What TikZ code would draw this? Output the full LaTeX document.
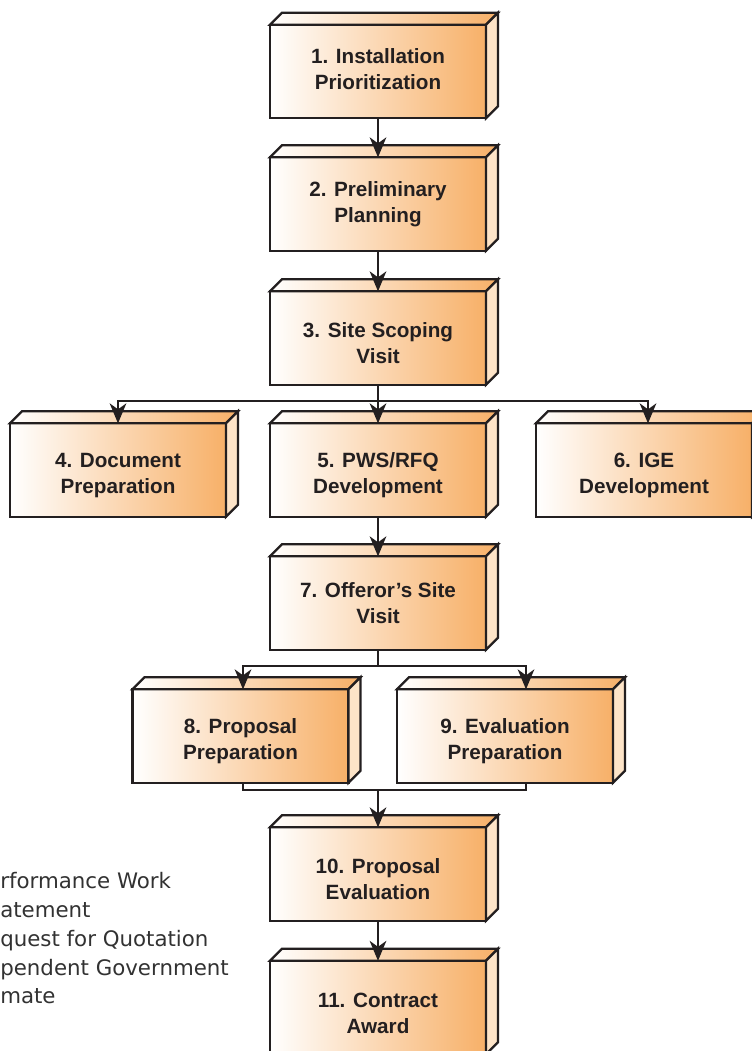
\documentclass[tikz,border=0pt]{standalone}
\usepackage{fontspec}
\setmainfont{Liberation Sans}
\newfontfamily\keyfont{DejaVu Sans}
\usepackage{tikz}
\usetikzlibrary{calc}
\usetikzlibrary{arrows.meta, positioning}

\definecolor{boxorange}{RGB}{247,176,104}
\definecolor{sidepeach}{RGB}{253,228,200}
\definecolor{inkgray}{RGB}{35,31,32}
\definecolor{keygray}{RGB}{50,50,50}

% two text lines, set a little below the box centre
\newcommand{\steptext}[2]{\rule{0pt}{19.5pt}#1\\#2}

\tikzset{
  stepbox/.style={draw=inkgray, line width=1.7pt, left color=white, right color=boxorange,
    minimum width=162pt, minimum height=70pt, inner sep=0pt, outer sep=0pt,
    align=center, text=inkgray, font=\fontsize{15.5}{19.5}\selectfont\bfseries},
  topface/.style={draw=inkgray, line width=1.7pt, left color=white, right color=boxorange},
  sideface/.style={draw=inkgray, line width=1.7pt, fill=sidepeach},
  arr/.style={draw=inkgray, line width=1.4pt, -{Stealth[length=15pt,width=12.5pt,inset=4.5pt]}},
  link/.style={draw=inkgray, line width=1.4pt},
  keytext/.style={inner sep=0pt, text=keygray, font=\keyfont\fontsize{16}{21.5}\selectfont}
}

% top and right faces of a step box
\newcommand{\slab}[1]{%
  \draw[topface] (#1.north west) -- ++(12,-12) -- ($(#1.north east)+(12,-12)$) -- (#1.north east) -- cycle;
  \draw[sideface] (#1.north east) -- ++(12,-12) -- ($(#1.south east)+(12,-12)$) -- (#1.south east) -- cycle;
}

\begin{document}
\begin{tikzpicture}[x=0.75pt,y=0.75pt,yscale=-1,xscale=1]
\useasboundingbox (0,0) rectangle (751,1051);

% Steps
\node[stepbox] (b1) at (378,71.5) {1. Installation\\Prioritization\rule[-4pt]{0pt}{0pt}};
\node[stepbox] (b2) at (378,204) {2. Preliminary\\Planning};
\node[stepbox] (b3) at (378,338) {\steptext{3. Site Scoping}{Visit}};
\node[stepbox] (b4) at (118,470) {\steptext{4. Document}{Preparation}};
\node[stepbox] (b5) at (378,470) {\steptext{5. PWS/RFQ}{Development}};
\node[stepbox] (b6) at (644,470) {\steptext{6. IGE}{Development}};
\node[stepbox] (b7) at (378,603) {7. Offeror's Site\\Visit};
\node[stepbox] (b8) at (240.5,736) {\steptext{8. Proposal}{Preparation}};
\node[stepbox] (b9) at (505,736) {\steptext{9. Evaluation}{Preparation}};
\node[stepbox] (b10) at (378,874) {\steptext{10. Proposal}{Evaluation}};
\node[stepbox] (b11) at (378,1007.5) {\steptext{11. Contract}{Award}};

\foreach \b in {b1,b2,b3,b4,b5,b6,b7,b8,b9,b10,b11} {\slab{\b}}

% Junctions
\coordinate (j3) at (378,401);
\coordinate (j7) at (378,666);
\coordinate (j8) at (378,790);

% Connectors
\draw[arr] (b1.south) -- (b2.north);
\draw[arr] (b2.south) -- (b3.north);
\draw[link] (b3.south) -- (j3);
\draw[arr] (j3) -| (b4.north);
\draw[arr] (j3) -- (b5.north);
\draw[arr] ($(j3)+(-1,0)$) -| ($(b6.north)+(4,0)$);
\draw[arr] (b5.south) -- (b7.north);
\draw[link] (b7.south) -- (j7);
\draw[arr] (j7) -| ($(b8.north)+(2.5,0)$);
\draw[arr] (j7) -| ($(b9.north)+(21,0)$);
\draw[link] ($(b8.south)+(2.5,0)$) |- (j8) -| ($(b9.south)+(21,0)$);
\draw[arr] (j8) -- (b10.north);
\draw[arr] (b10.south) -- (b11.north);

% Key
\foreach \t [count=\i] in {rformance Work,atement,quest for Quotation,pendent Government,mate}
  \node[keytext, anchor=base west] (key\i) at (0,860+\i*28.75) {\t};

\end{tikzpicture}
\end{document}
